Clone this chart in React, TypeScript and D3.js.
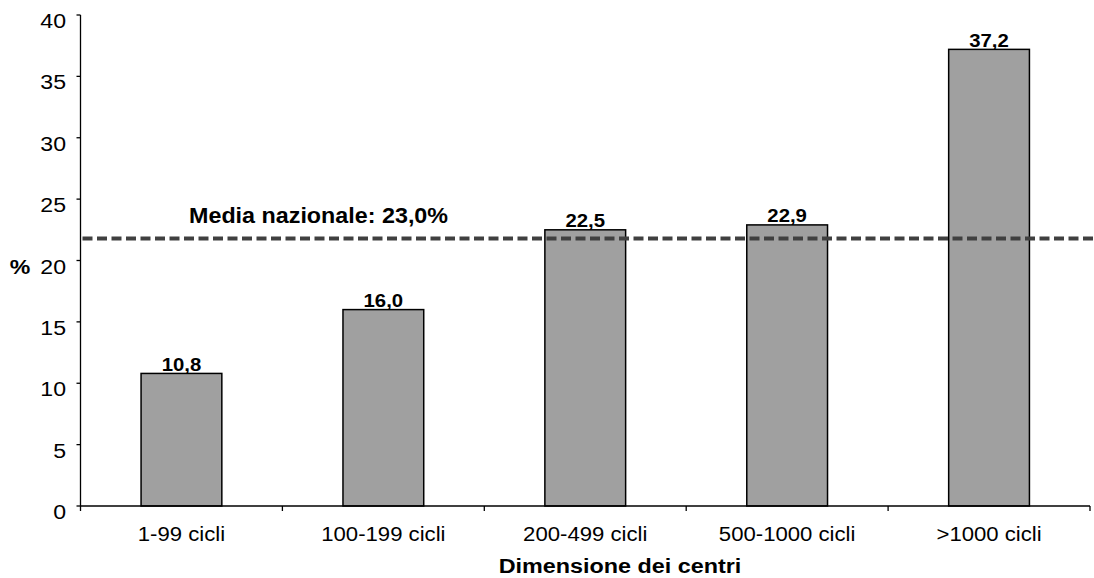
import React from "react";
import * as d3 from "d3";

const categories = ["1-99 cicli", "100-199 cicli", "200-499 cicli", "500-1000 cicli", ">1000 cicli"];
const values = [10.8, 16.0, 22.5, 22.9, 37.2];
const valueLabels = ["10,8", "16,0", "22,5", "22,9", "37,2"];
const yTicks = [0, 5, 10, 15, 20, 25, 30, 35, 40];
const meanLineValue = 21.8;
const meanLabel = "Media nazionale: 23,0%";
const xTitle = "Dimensione dei centri";
const yTitle = "%";

const W = 1094;
const H = 578;
const left = 80.5;
const right = 1090;
const top = 15;
const bottom = 506;
const font = "'Liberation Sans', Arial, sans-serif";

function SText(props: { x: number; y: number; sx?: number; children: React.ReactNode; [k: string]: any }) {
  const { x, y, sx = 1.08, children, ...rest } = props;
  return (
    <g transform={`translate(${x},${y}) scale(${sx},1)`}>
      <text x={0} y={0} {...rest}>
        {children}
      </text>
    </g>
  );
}

export default function App() {
  const x = d3.scaleBand<string>().domain(categories).range([left, right]).paddingInner(0.6).paddingOuter(0.3);
  const y = d3.scaleLinear().domain([0, 40]).range([bottom, top]);
  const step = x.step();
  const boundaries = d3.range(categories.length + 1).map((i) => left + i * step);

  return (
    <svg width={W} height={H} style={{ position: "absolute", left: 0, top: 0, background: "#fff" }} fontFamily={font}>
      {/* bars */}
      {categories.map((c, i) => (
        <rect
          key={c}
          x={x(c)!}
          y={y(values[i])}
          width={x.bandwidth()}
          height={y(0) - y(values[i])}
          fill="#a0a0a0"
          stroke="#000"
          strokeWidth={1.5}
        />
      ))}
      {/* value labels */}
      {categories.map((c, i) => (
        <SText
          key={"v" + c}
          x={x(c)! + x.bandwidth() / 2}
          y={y(values[i]) - 2.5}
          sx={1.1}
          textAnchor="middle"
          fontWeight="bold"
          fontSize={18.5}
          fill="#000"
        >
          {valueLabels[i]}
        </SText>
      ))}
      {/* mean line */}
      <line
        x1={left + 2}
        x2={W}
        y1={y(meanLineValue)}
        y2={y(meanLineValue)}
        stroke="#404040"
        strokeWidth={4}
        strokeDasharray="10,4.5"
      />
      <SText x={189} y={223} sx={1.06} fontWeight="bold" fontSize={22} fill="#000">
        {meanLabel}
      </SText>
      {/* y axis */}
      <line x1={left} x2={left} y1={top} y2={bottom} stroke="#000" strokeWidth={1.3} />
      {yTicks.map((t) => (
        <g key={t}>
          <line x1={left - 4} x2={left} y1={y(t)} y2={y(t)} stroke="#000" strokeWidth={1.3} />
          <SText x={66} y={y(t) + 7.5} sx={1.1} textAnchor="end" dominantBaseline="middle" fontSize={21} fill="#000">
            {t}
          </SText>
        </g>
      ))}
      <SText x={20} y={y(20) + 7.5} sx={1.1} textAnchor="middle" dominantBaseline="middle" fontWeight="bold" fontSize={21} fill="#000">
        {yTitle}
      </SText>
      {/* x axis */}
      <line x1={left} x2={right} y1={bottom} y2={bottom} stroke="#000" strokeWidth={1.3} />
      {boundaries.map((bx, i) => (
        <line key={"b" + i} x1={bx} x2={bx} y1={bottom} y2={bottom + 5} stroke="#000" strokeWidth={1.3} />
      ))}
      {categories.map((c) => (
        <SText key={"c" + c} x={x(c)! + x.bandwidth() / 2} y={541} sx={1.08} textAnchor="middle" fontSize={20.5} fill="#000">
          {c}
        </SText>
      ))}
      <SText x={620} y={573} sx={1.14} textAnchor="middle" fontWeight="bold" fontSize={20.5} fill="#000">
        {xTitle}
      </SText>
    </svg>
  );
}
